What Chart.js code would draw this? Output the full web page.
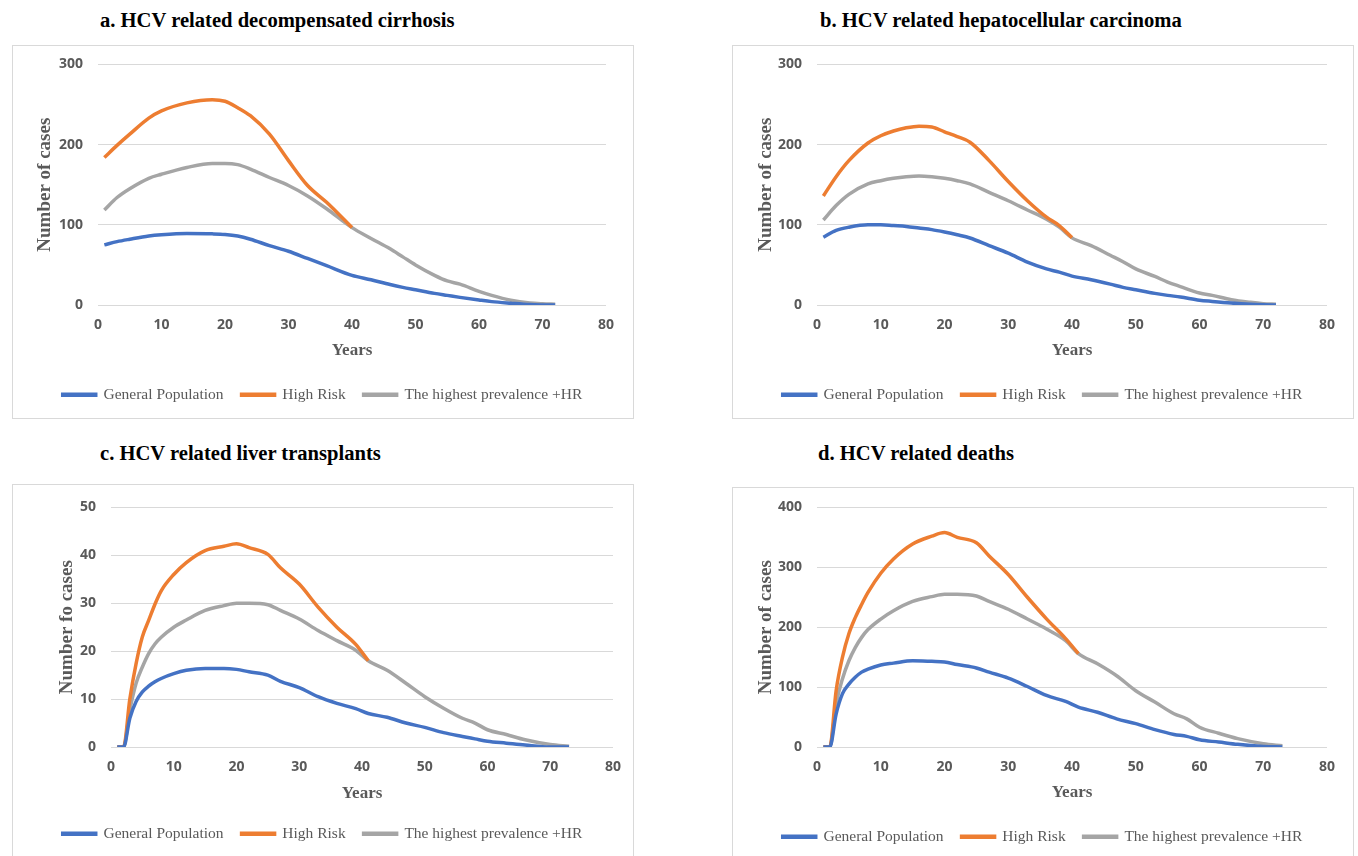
<!DOCTYPE html>
<html>
<head>
<meta charset="utf-8">
<script src="https://cdn.jsdelivr.net/npm/chart.js@4.4.1/dist/chart.umd.min.js"></script>
<style>
  body { margin: 0; background: #fff; width: 1358px; height: 856px; overflow: hidden; position: relative; }
  .title { position: absolute; font: bold 20.6px "Liberation Serif", "Times New Roman", serif; color: #000; line-height: 24px; white-space: nowrap; }
  .box { position: absolute; border: 1px solid #d9d9d9; box-sizing: border-box; }
  canvas { position: absolute; }
</style>
</head>
<body>
<div class="title" style="left:100px; top:8px;">a. HCV related decompensated cirrhosis</div>
<div class="title" style="left:820px; top:8px;">b. HCV related hepatocellular carcinoma</div>
<div class="title" style="left:100px; top:441px;">c. HCV related liver transplants</div>
<div class="title" style="left:818px; top:441px;">d. HCV related deaths</div>

<div class="box" style="left:12px; top:45px; width:622px; height:374px;"></div>
<div class="box" style="left:732px; top:45px; width:622px; height:374px;"></div>
<div class="box" style="left:12px; top:484px; width:622px; height:420px;"></div>
<div class="box" style="left:732px; top:487px; width:622px; height:420px;"></div>

<canvas id="chartA" width="621" height="377" style="left:12px; top:41px;"></canvas>
<canvas id="chartB" width="621" height="377" style="left:732px; top:41px;"></canvas>
<canvas id="chartC" width="621" height="372" style="left:12px; top:484px;"></canvas>
<canvas id="chartD" width="621" height="372" style="left:732px; top:484px;"></canvas>

<script>
const seriesNames = ["General Population", "High Risk", "The highest prevalence +HR"];
const colors = ["#4472C4", "#ED7D31", "#A5A5A5"];
const xTicks = [0, 10, 20, 30, 40, 50, 60, 70, 80];

// a. decompensated cirrhosis
const yearsA = [1, 3, 5, 8, 10, 14, 18, 20, 22, 24, 27, 30, 33, 36, 40, 43, 46, 48, 50, 53, 55, 57, 60, 62, 65, 68, 70, 72];
const generalA = [75, 79, 82, 86, 87.5, 89, 88.7, 88, 86, 82, 74, 67, 58, 49, 37, 31.5, 25.5, 22, 19, 14.5, 12, 9.5, 6.2, 4.2, 2.2, 0.5, 0.1, 0];
const highRiskA = [184, 199, 213, 233, 242, 252, 256, 254, 246, 236, 213, 180, 149, 128, 96.5];
const highestA = [118.5, 134, 145, 158, 163, 171.5, 176.5, 176.5, 175, 169.5, 159, 149, 136, 120, 96.5, 83, 70, 60, 50, 37, 30, 26, 17, 12, 6, 2.5, 1.5, 1];

// b. hepatocellular carcinoma
const yearsB = [1, 3, 5, 8, 10, 12, 14, 16, 18, 20, 22, 24, 27, 30, 33, 36, 38, 40, 43, 46, 48, 50, 53, 55, 57, 60, 62, 65, 68, 70, 72];
const generalB = [84.5, 93, 97, 100, 100, 99, 98, 96, 94, 91, 87.5, 83.5, 74, 64.6, 53.5, 45, 41, 36, 31.5, 26, 22, 19, 14.5, 12, 10, 6, 4.5, 2.5, 1, 0.4, 0];
const highRiskB = [136, 160, 180, 202, 211, 217, 221, 223, 222, 216, 210, 203, 180, 154, 130, 109.5, 99, 84];
const highestB = [106, 124, 138, 151, 155, 158, 160, 161, 160, 158, 155, 151, 140.5, 130, 118.5, 107, 97, 83.7, 74, 62, 54, 45, 35.6, 28.6, 23, 15, 12, 6.6, 3.3, 1.7, 1];

// c. liver transplants
const yearsC = [1, 2, 3, 4, 5, 6, 7, 8, 10, 12, 15, 18, 20, 22, 25, 27, 30, 33, 36, 39, 41, 44, 47, 50, 53, 56, 58, 60, 63, 66, 70, 73];
const generalC = [0, 0, 6, 9.5, 11.5, 12.7, 13.6, 14.3, 15.3, 16, 16.4, 16.4, 16.2, 15.7, 15, 13.7, 12.4, 10.5, 9.1, 8, 7, 6.2, 5, 4.1, 3, 2.2, 1.7, 1.2, 0.8, 0.4, 0, 0];
const highRiskC = [0, 0, 10, 17.4, 23, 26.4, 29.8, 32.6, 36, 38.5, 41, 41.9, 42.4, 41.6, 40.2, 37.4, 34, 29.2, 25, 21.4, 18];
const highestC = [0, 0, 7.7, 13.3, 16.7, 19.5, 21.5, 22.9, 25, 26.5, 28.5, 29.5, 30, 30, 29.7, 28.5, 26.7, 24.3, 22.2, 20.2, 18, 16, 13.3, 10.5, 8.1, 6, 5, 3.6, 2.6, 1.5, 0.5, 0.15];

// d. deaths
const yearsD = [1, 2, 3, 4, 5, 6, 7, 8, 10, 12, 15, 18, 20, 22, 25, 27, 30, 33, 36, 39, 41, 44, 47, 50, 53, 56, 58, 60, 63, 66, 70, 73];
const generalD = [0, 0, 55, 89, 105, 116.5, 125, 130, 137, 140, 144, 143, 142, 137.6, 132, 125, 115, 101, 86, 76, 66.6, 58, 47, 39, 29, 21, 17.8, 12, 8.3, 4.4, 1, 0];
const highRiskD = [0, 0, 94, 150, 189, 216, 238, 258, 290, 314, 339, 352, 358, 350, 341, 319, 288, 250, 214, 181, 156];
const highestD = [0, 0, 72, 114, 144, 166, 183, 196, 213.6, 227.5, 243, 251, 255, 255, 252, 243, 230, 213.6, 197, 177.5, 156, 139, 119, 94, 75, 55.5, 47, 33, 23, 14, 5.5, 2];

const tickColor = "#595959";

function points(years, values) {
  return values.map((v, i) => ({ x: years[i], y: v }));
}

function makeChart(id, p) {
  const series = [p.general, p.highRisk, p.highest];
  new Chart(document.getElementById(id), {
    type: "line",
    data: {
      datasets: series.map((vals, i) => ({
        label: seriesNames[i],
        data: points(p.years, vals),
        borderColor: colors[i],
        backgroundColor: colors[i],
        borderWidth: 3.5,
        pointRadius: 0,
        cubicInterpolationMode: "monotone",
      })),
    },
    options: {
      responsive: false,
      animation: false,
      layout: { padding: { top: p.top, right: 0, left: 0, bottom: p.bottom } },
      plugins: {
        tooltip: { enabled: false },
        legend: {
          position: "bottom",
          maxHeight: 40,
          labels: {
            boxWidth: 33,
            boxHeight: 1,
            padding: 18,
            color: tickColor,
            font: { family: "'Liberation Serif', 'Times New Roman', serif", size: 15.5 },
          },
        },
      },
      scales: {
        x: {
          type: "linear",
          min: 0,
          max: 80,
          afterBuildTicks: (s) => { s.ticks = xTicks.map((v) => ({ value: v })); },
          afterFit: (s) => { s.height = p.xHeight; },
          grid: { display: false, drawTicks: false },
          border: { display: false },
          ticks: { padding: 12, color: tickColor, font: { family: "'Open Sans'", size: 14, weight: "bold" } },
          title: {
            display: true,
            text: "Years",
            color: tickColor,
            padding: { top: 0, bottom: p.xTitlePad },
            font: { family: "'Liberation Serif', 'Times New Roman', serif", size: 17, weight: "bold" },
          },
        },
        y: {
          min: 0,
          max: p.yMax,
          afterBuildTicks: (s) => { s.ticks = p.yTicks.map((v) => ({ value: v })); },
          afterFit: (s) => { s.width = p.yWidth; },
          grid: { color: "#d9d9d9", lineWidth: 1, drawTicks: false },
          border: { display: false },
          ticks: { padding: 15, color: tickColor, font: { family: "'Open Sans'", size: 14, weight: "bold" } },
          title: {
            display: true,
            text: p.yTitle,
            color: tickColor,
            padding: { top: p.yTitlePad, bottom: 0 },
            font: { family: "'Liberation Serif', 'Times New Roman', serif", size: 19, weight: "bold" },
          },
        },
        yRight: {
          type: "linear",
          position: "right",
          afterFit: (s) => { s.width = p.right; },
          grid: { display: false },
          border: { display: false },
          ticks: { display: false },
        },
      },
    },
  });
}

makeChart("chartA", {
  years: yearsA, general: generalA, highRisk: highRiskA, highest: highestA,
  yMax: 300, yTicks: [0, 100, 200, 300], yTitle: "Number of cases",
  top: 22, bottom: 9, yWidth: 86, right: 27, xHeight: 64, xTitlePad: 7.8, yTitlePad: 22,
});
makeChart("chartB", {
  years: yearsB, general: generalB, highRisk: highRiskB, highest: highestB,
  yMax: 300, yTicks: [0, 100, 200, 300], yTitle: "Number of cases",
  top: 22, bottom: 9, yWidth: 85, right: 26, xHeight: 64, xTitlePad: 7.8, yTitlePad: 22.6,
});
makeChart("chartC", {
  years: yearsC, general: generalC, highRisk: highRiskC, highest: highestC,
  yMax: 50, yTicks: [0, 10, 20, 30, 40, 50], yTitle: "Number fo cases",
  top: 22, bottom: 8, yWidth: 99, right: 18, xHeight: 61, xTitlePad: 3.8, yTitlePad: 43.6,
});
makeChart("chartD", {
  years: yearsD, general: generalD, highRisk: highRiskD, highest: highestD,
  yMax: 400, yTicks: [0, 100, 200, 300, 400], yTitle: "Number of cases",
  top: 22, bottom: 5, yWidth: 85, right: 26, xHeight: 64, xTitlePad: 7.8, yTitlePad: 22.6,
});
</script>
</body>
</html>
